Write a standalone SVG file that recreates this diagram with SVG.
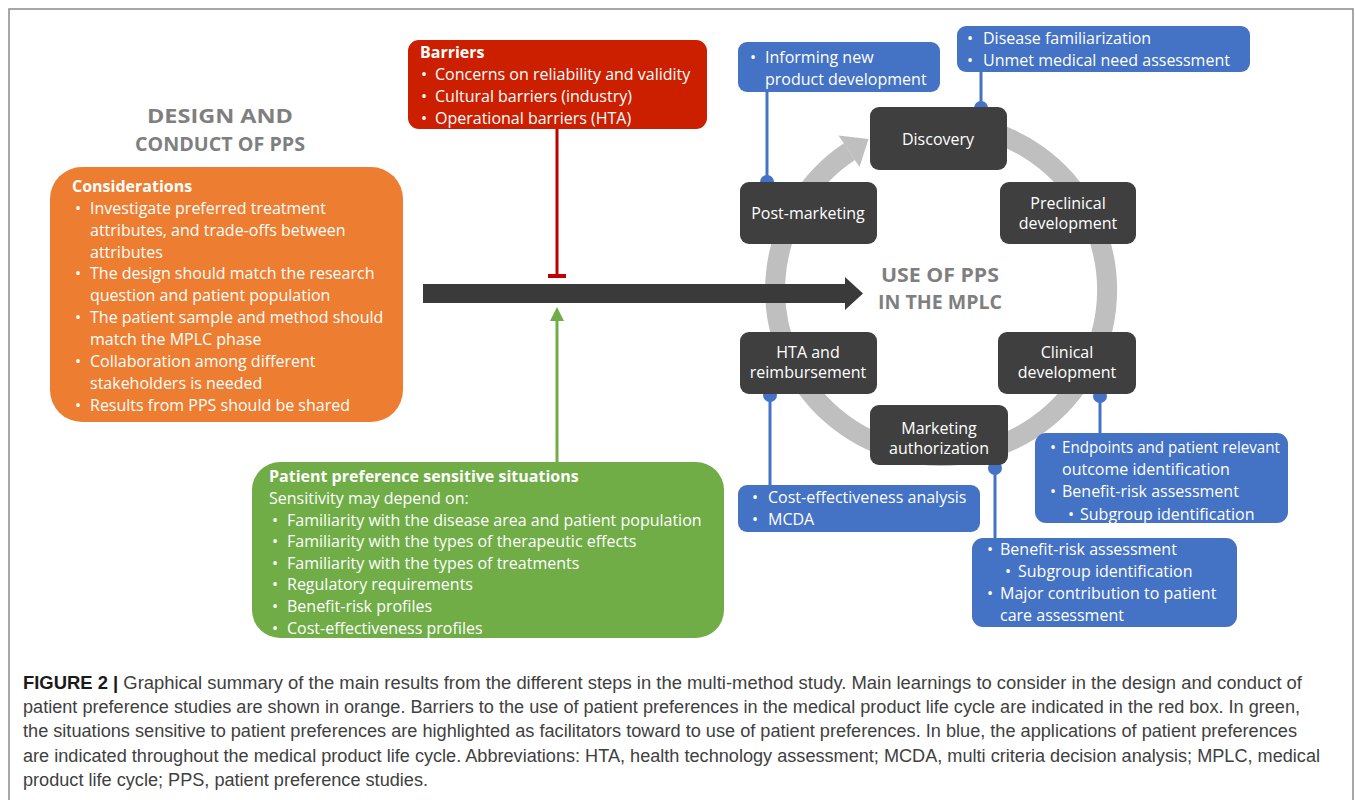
<svg xmlns="http://www.w3.org/2000/svg" width="1355" height="800" viewBox="0 0 1355 800">
<defs>
<style>
.t{font-family:"Open Sans","Noto Sans","Liberation Sans",sans-serif;font-size:16px;fill:#fff}
.b{font-weight:bold}
.c{text-anchor:middle}
.ttl{font-family:"Open Sans","Noto Sans","Liberation Sans",sans-serif;font-size:20px;font-weight:bold;fill:#7f7f7f;text-anchor:middle}
.dark{fill:#3f3f3f}
.blue{fill:#4472c4}
.bl{stroke:#4472c4;stroke-width:3;fill:none}
.cap{font-family:"Liberation Sans",Arial,sans-serif;font-size:17.5px;fill:#404040}
</style>
</defs>
<rect width="1355" height="800" fill="#fff"/>
<path d="M9,800 V9 H1353 V800" fill="none" stroke="#8a8a8a" stroke-width="1.5"/>

<g id="title-design">
<text class="ttl" x="220" y="123" textLength="146" lengthAdjust="spacingAndGlyphs">DESIGN AND</text>
<text class="ttl" x="220" y="151" textLength="170" lengthAdjust="spacingAndGlyphs">CONDUCT OF PPS</text>
</g>

<g id="ring">
<path d="M970,126.5 A166,166 0 1 1 849.4,151.6" fill="none" stroke="#bfbfbf" stroke-width="20"/>
<polygon points="868.5,139 838.5,135.5 859.5,167" fill="#bfbfbf"/>
</g>

<g id="title-use">
<text class="ttl" x="940" y="282" textLength="118" lengthAdjust="spacingAndGlyphs">USE OF PPS</text>
<text class="ttl" x="940" y="309" textLength="124" lengthAdjust="spacingAndGlyphs">IN THE MPLC</text>
</g>

<g id="connectors">
<path d="M557,129 V276" stroke="#c00000" stroke-width="3" fill="none"/>
<path d="M548,276 H566" stroke="#c00000" stroke-width="4" fill="none"/>
<path d="M557,462 V318" stroke="#70ad47" stroke-width="3" fill="none"/>
<polygon points="557,307 550,321 564,321" fill="#70ad47"/>
<path d="M423,284 H845 V277 L863,293.5 L845,310 V303 H423 Z" fill="#3a3a3a"/>
<path class="bl" d="M767,92 V182"/>
<circle cx="767" cy="182" r="7" class="blue"/>
<path class="bl" d="M981,72 V108"/>
<circle cx="981" cy="108" r="7" class="blue"/>
<path class="bl" d="M770,395 V485"/>
<circle cx="770" cy="395" r="7" class="blue"/>
<path class="bl" d="M1100,396 V433"/>
<circle cx="1100" cy="396" r="7" class="blue"/>
<path class="bl" d="M995,468 V538"/>
<circle cx="995" cy="468" r="7" class="blue"/>
</g>

<g id="barriers">
<rect x="408" y="40" width="299" height="89" rx="11" fill="#cb1f00"/>
<text class="t b" x="420" y="58">Barriers</text>
<text class="t" x="421" y="80">•</text><text class="t" x="435" y="80">Concerns on reliability and validity</text>
<text class="t" x="421" y="102">•</text><text class="t" x="435" y="102">Cultural barriers (industry)</text>
<text class="t" x="421" y="124">•</text><text class="t" x="435" y="124">Operational barriers (HTA)</text>
</g>

<g id="considerations">
<rect x="50" y="167" width="353" height="255" rx="32" fill="#ed7d31"/>
<text class="t b" x="72" y="192">Considerations</text>
<text class="t" x="75" y="214">•</text><text class="t" x="90" y="214">Investigate preferred treatment</text>
<text class="t" x="90" y="236">attributes, and trade-offs between</text>
<text class="t" x="90" y="258">attributes</text>
<text class="t" x="75" y="279">•</text><text class="t" x="90" y="279">The design should match the research</text>
<text class="t" x="90" y="301">question and patient population</text>
<text class="t" x="75" y="323">•</text><text class="t" x="90" y="323">The patient sample and method should</text>
<text class="t" x="90" y="345">match the MPLC phase</text>
<text class="t" x="75" y="367">•</text><text class="t" x="90" y="367">Collaboration among different</text>
<text class="t" x="90" y="389">stakeholders is needed</text>
<text class="t" x="75" y="411">•</text><text class="t" x="90" y="411">Results from PPS should be shared</text>
</g>

<g id="sensitive">
<rect x="252" y="462" width="472" height="176" rx="28" fill="#70ad47"/>
<text class="t b" x="269" y="482">Patient preference sensitive situations</text>
<text class="t" x="269" y="504">Sensitivity may depend on:</text>
<text class="t" x="272" y="526">•</text><text class="t" x="287" y="526">Familiarity with the disease area and patient population</text>
<text class="t" x="272" y="547">•</text><text class="t" x="287" y="547">Familiarity with the types of therapeutic effects</text>
<text class="t" x="272" y="569">•</text><text class="t" x="287" y="569">Familiarity with the types of treatments</text>
<text class="t" x="272" y="590">•</text><text class="t" x="287" y="590">Regulatory requirements</text>
<text class="t" x="272" y="612">•</text><text class="t" x="287" y="612">Benefit-risk profiles</text>
<text class="t" x="272" y="634">•</text><text class="t" x="287" y="634">Cost-effectiveness profiles</text>
</g>

<g id="discovery">
<rect x="870" y="107" width="137" height="63" rx="9" class="dark"/>
<text class="t c" x="938" y="145">Discovery</text>
</g>
<g id="preclinical">
<rect x="1000" y="182" width="136" height="62" rx="9" class="dark"/>
<text class="t c" x="1068" y="209">Preclinical</text>
<text class="t c" x="1068" y="229">development</text>
</g>
<g id="clinical">
<rect x="998" y="332" width="138" height="62" rx="9" class="dark"/>
<text class="t c" x="1067" y="358">Clinical</text>
<text class="t c" x="1067" y="378">development</text>
</g>
<g id="marketing">
<rect x="870" y="405" width="138" height="60" rx="9" class="dark"/>
<text class="t c" x="939" y="434">Marketing</text>
<text class="t c" x="939" y="454">authorization</text>
</g>
<g id="hta">
<rect x="740" y="332" width="137" height="62" rx="9" class="dark"/>
<text class="t c" x="808" y="358">HTA and</text>
<text class="t c" x="808" y="378">reimbursement</text>
</g>
<g id="postmarketing">
<rect x="740" y="182" width="137" height="62" rx="9" class="dark"/>
<text class="t c" x="808" y="219">Post-marketing</text>
</g>

<g id="informing">
<rect x="738" y="42" width="202" height="50" rx="9" class="blue"/>
<text class="t" x="750" y="63">•</text><text class="t" x="765" y="63">Informing new</text>
<text class="t" x="765" y="85">product development</text>
</g>
<g id="disease">
<rect x="957" y="26" width="293" height="46" rx="9" class="blue"/>
<text class="t" x="967" y="44">•</text><text class="t" x="983" y="44">Disease familiarization</text>
<text class="t" x="967" y="66">•</text><text class="t" x="983" y="66">Unmet medical need assessment</text>
</g>
<g id="cost">
<rect x="738" y="485" width="242" height="47" rx="9" class="blue"/>
<text class="t" x="752" y="503">•</text><text class="t" x="768" y="503">Cost-effectiveness analysis</text>
<text class="t" x="752" y="525">•</text><text class="t" x="768" y="525">MCDA</text>
</g>
<g id="endpoints">
<rect x="1035" y="433" width="253" height="90" rx="11" class="blue"/>
<text class="t" x="1050" y="453">•</text><text class="t" x="1062" y="453" textLength="218" lengthAdjust="spacingAndGlyphs">Endpoints and patient relevant</text>
<text class="t" x="1062" y="475">outcome identification</text>
<text class="t" x="1050" y="497">•</text><text class="t" x="1062" y="497">Benefit-risk assessment</text>
<text class="t" x="1068" y="520">•</text><text class="t" x="1080" y="520">Subgroup identification</text>
</g>
<g id="benefit">
<rect x="972" y="538" width="265" height="89" rx="11" class="blue"/>
<text class="t" x="987" y="555">•</text><text class="t" x="1000" y="555">Benefit-risk assessment</text>
<text class="t" x="1005" y="577">•</text><text class="t" x="1018" y="577">Subgroup identification</text>
<text class="t" x="987" y="599">•</text><text class="t" x="1000" y="599">Major contribution to patient</text>
<text class="t" x="1000" y="621">care assessment</text>
</g>

<g id="caption">
<text class="cap" x="23" y="689" textLength="1279" lengthAdjust="spacingAndGlyphs"><tspan font-weight="bold" fill="#1a1a1a">FIGURE 2 |</tspan> Graphical summary of the main results from the different steps in the multi-method study. Main learnings to consider in the design and conduct of</text>
<text class="cap" x="23" y="713" textLength="1277" lengthAdjust="spacingAndGlyphs">patient preference studies are shown in orange. Barriers to the use of patient preferences in the medical product life cycle are indicated in the red box. In green,</text>
<text class="cap" x="23" y="737" textLength="1274" lengthAdjust="spacingAndGlyphs">the situations sensitive to patient preferences are highlighted as facilitators toward to use of patient preferences. In blue, the applications of patient preferences</text>
<text class="cap" x="23" y="762" textLength="1297" lengthAdjust="spacingAndGlyphs">are indicated throughout the medical product life cycle. Abbreviations: HTA, health technology assessment; MCDA, multi criteria decision analysis; MPLC, medical</text>
<text class="cap" x="23" y="786" textLength="405" lengthAdjust="spacingAndGlyphs">product life cycle; PPS, patient preference studies.</text>
</g>
</svg>
